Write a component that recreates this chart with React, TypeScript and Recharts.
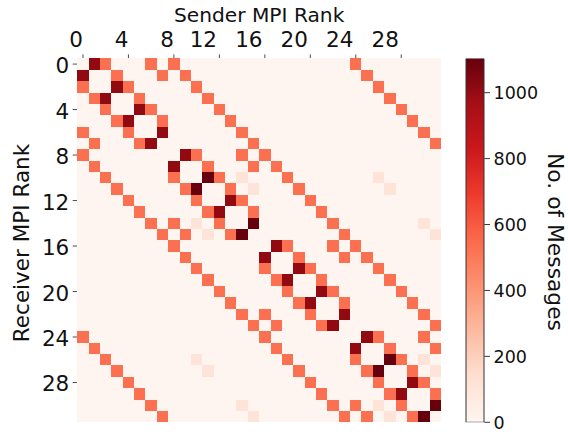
import React from 'react';
import { ScatterChart, Scatter, XAxis, YAxis, BarChart, Bar } from 'recharts';

// ---- data ----
const rankTicks = [0, 4, 8, 12, 16, 20, 24, 28];
const colorbarTicks = [0, 200, 400, 600, 800, 1000];
const colorMax = 1104;
const redsStops = ['#fff5f0', '#fee0d2', '#fcbba1', '#fc9272', '#fb6a4a', '#ef3b2c', '#cb181d', '#a50f15', '#67000d'];

// receiver rows, sender columns (0..31)
const recv00 = [0, 1010, 530, 0, 0, 0, 530, 0, 530, 0, 0, 0, 0, 0, 0, 0, 0, 0, 0, 0, 0, 0, 0, 0, 530, 0, 0, 0, 0, 0, 0, 0];
const recv01 = [1010, 0, 0, 530, 0, 0, 0, 530, 0, 530, 0, 0, 0, 0, 0, 0, 0, 0, 0, 0, 0, 0, 0, 0, 0, 530, 0, 0, 0, 0, 0, 0];
const recv02 = [530, 0, 0, 1010, 530, 0, 0, 0, 0, 0, 530, 0, 0, 0, 0, 0, 0, 0, 0, 0, 0, 0, 0, 0, 0, 0, 530, 0, 0, 0, 0, 0];
const recv03 = [0, 530, 1010, 0, 0, 530, 0, 0, 0, 0, 0, 530, 0, 0, 0, 0, 0, 0, 0, 0, 0, 0, 0, 0, 0, 0, 0, 530, 0, 0, 0, 0];
const recv04 = [0, 0, 530, 0, 0, 1010, 530, 0, 0, 0, 0, 0, 530, 0, 0, 0, 0, 0, 0, 0, 0, 0, 0, 0, 0, 0, 0, 0, 530, 0, 0, 0];
const recv05 = [0, 0, 0, 530, 1010, 0, 0, 530, 0, 0, 0, 0, 0, 530, 0, 0, 0, 0, 0, 0, 0, 0, 0, 0, 0, 0, 0, 0, 0, 530, 0, 0];
const recv06 = [530, 0, 0, 0, 530, 0, 0, 1010, 0, 0, 0, 0, 0, 0, 530, 0, 0, 0, 0, 0, 0, 0, 0, 0, 0, 0, 0, 0, 0, 0, 530, 0];
const recv07 = [0, 530, 0, 0, 0, 530, 1010, 0, 0, 0, 0, 0, 0, 0, 0, 530, 0, 0, 0, 0, 0, 0, 0, 0, 0, 0, 0, 0, 0, 0, 0, 530];
const recv08 = [530, 0, 0, 0, 0, 0, 0, 0, 0, 1010, 530, 0, 0, 0, 530, 0, 530, 0, 0, 0, 0, 0, 0, 0, 0, 0, 0, 0, 0, 0, 0, 0];
const recv09 = [0, 530, 0, 0, 0, 0, 0, 0, 1010, 0, 0, 530, 0, 0, 0, 530, 0, 530, 0, 0, 0, 0, 0, 0, 0, 0, 0, 0, 0, 0, 0, 0];
const recv10 = [0, 0, 530, 0, 0, 0, 0, 0, 530, 0, 0, 1104, 530, 0, 110, 0, 0, 0, 530, 0, 0, 0, 0, 0, 0, 0, 110, 0, 0, 0, 0, 0];
const recv11 = [0, 0, 0, 530, 0, 0, 0, 0, 0, 530, 1104, 0, 0, 530, 0, 110, 0, 0, 0, 530, 0, 0, 0, 0, 0, 0, 0, 110, 0, 0, 0, 0];
const recv12 = [0, 0, 0, 0, 530, 0, 0, 0, 0, 0, 530, 0, 0, 1010, 530, 0, 0, 0, 0, 0, 530, 0, 0, 0, 0, 0, 0, 0, 0, 0, 0, 0];
const recv13 = [0, 0, 0, 0, 0, 530, 0, 0, 0, 0, 0, 530, 1010, 0, 0, 530, 0, 0, 0, 0, 0, 530, 0, 0, 0, 0, 0, 0, 0, 0, 0, 0];
const recv14 = [0, 0, 0, 0, 0, 0, 530, 0, 530, 0, 110, 0, 530, 0, 0, 1104, 0, 0, 0, 0, 0, 0, 530, 0, 0, 0, 0, 0, 0, 0, 110, 0];
const recv15 = [0, 0, 0, 0, 0, 0, 0, 530, 0, 530, 0, 110, 0, 530, 1104, 0, 0, 0, 0, 0, 0, 0, 0, 530, 0, 0, 0, 0, 0, 0, 0, 110];
const recv16 = [0, 0, 0, 0, 0, 0, 0, 0, 530, 0, 0, 0, 0, 0, 0, 0, 0, 1010, 530, 0, 0, 0, 530, 0, 530, 0, 0, 0, 0, 0, 0, 0];
const recv17 = [0, 0, 0, 0, 0, 0, 0, 0, 0, 530, 0, 0, 0, 0, 0, 0, 1010, 0, 0, 530, 0, 0, 0, 530, 0, 530, 0, 0, 0, 0, 0, 0];
const recv18 = [0, 0, 0, 0, 0, 0, 0, 0, 0, 0, 530, 0, 0, 0, 0, 0, 530, 0, 0, 1010, 530, 0, 0, 0, 0, 0, 530, 0, 0, 0, 0, 0];
const recv19 = [0, 0, 0, 0, 0, 0, 0, 0, 0, 0, 0, 530, 0, 0, 0, 0, 0, 530, 1010, 0, 0, 530, 0, 0, 0, 0, 0, 530, 0, 0, 0, 0];
const recv20 = [0, 0, 0, 0, 0, 0, 0, 0, 0, 0, 0, 0, 530, 0, 0, 0, 0, 0, 530, 0, 0, 1010, 530, 0, 0, 0, 0, 0, 530, 0, 0, 0];
const recv21 = [0, 0, 0, 0, 0, 0, 0, 0, 0, 0, 0, 0, 0, 530, 0, 0, 0, 0, 0, 530, 1010, 0, 0, 530, 0, 0, 0, 0, 0, 530, 0, 0];
const recv22 = [0, 0, 0, 0, 0, 0, 0, 0, 0, 0, 0, 0, 0, 0, 530, 0, 530, 0, 0, 0, 530, 0, 0, 1010, 0, 0, 0, 0, 0, 0, 530, 0];
const recv23 = [0, 0, 0, 0, 0, 0, 0, 0, 0, 0, 0, 0, 0, 0, 0, 530, 0, 530, 0, 0, 0, 530, 1010, 0, 0, 0, 0, 0, 0, 0, 0, 530];
const recv24 = [530, 0, 0, 0, 0, 0, 0, 0, 0, 0, 0, 0, 0, 0, 0, 0, 530, 0, 0, 0, 0, 0, 0, 0, 0, 1010, 530, 0, 0, 0, 530, 0];
const recv25 = [0, 530, 0, 0, 0, 0, 0, 0, 0, 0, 0, 0, 0, 0, 0, 0, 0, 530, 0, 0, 0, 0, 0, 0, 1010, 0, 0, 530, 0, 0, 0, 530];
const recv26 = [0, 0, 530, 0, 0, 0, 0, 0, 0, 0, 110, 0, 0, 0, 0, 0, 0, 0, 530, 0, 0, 0, 0, 0, 530, 0, 0, 1104, 530, 0, 110, 0];
const recv27 = [0, 0, 0, 530, 0, 0, 0, 0, 0, 0, 0, 110, 0, 0, 0, 0, 0, 0, 0, 530, 0, 0, 0, 0, 0, 530, 1104, 0, 0, 530, 0, 110];
const recv28 = [0, 0, 0, 0, 530, 0, 0, 0, 0, 0, 0, 0, 0, 0, 0, 0, 0, 0, 0, 0, 530, 0, 0, 0, 0, 0, 530, 0, 0, 1010, 530, 0];
const recv29 = [0, 0, 0, 0, 0, 530, 0, 0, 0, 0, 0, 0, 0, 0, 0, 0, 0, 0, 0, 0, 0, 530, 0, 0, 0, 0, 0, 530, 1010, 0, 0, 530];
const recv30 = [0, 0, 0, 0, 0, 0, 530, 0, 0, 0, 0, 0, 0, 0, 110, 0, 0, 0, 0, 0, 0, 0, 530, 0, 530, 0, 110, 0, 530, 0, 0, 1104];
const recv31 = [0, 0, 0, 0, 0, 0, 0, 530, 0, 0, 0, 0, 0, 0, 0, 110, 0, 0, 0, 0, 0, 0, 0, 530, 0, 530, 0, 110, 0, 530, 1104, 0];

const messages = [
  recv00, recv01, recv02, recv03, recv04, recv05, recv06, recv07,
  recv08, recv09, recv10, recv11, recv12, recv13, recv14, recv15,
  recv16, recv17, recv18, recv19, recv20, recv21, recv22, recv23,
  recv24, recv25, recv26, recv27, recv28, recv29, recv30, recv31,
];

// ---- helpers ----
const FONT = '"DejaVu Sans", sans-serif';
const N = messages.length;

function hexToRgb(h: string) {
  return [parseInt(h.slice(1, 3), 16), parseInt(h.slice(3, 5), 16), parseInt(h.slice(5, 7), 16)];
}
const stopRgb = redsStops.map(hexToRgb);
function reds(v: number) {
  const t = Math.max(0, Math.min(1, v / colorMax));
  const s = t * (stopRgb.length - 1);
  const i = Math.min(stopRgb.length - 2, Math.floor(s));
  const f = s - i;
  const a = stopRgb[i];
  const b = stopRgb[i + 1];
  const c = a.map((x, k) => Math.round(x + (b[k] - x) * f));
  return `rgb(${c[0]},${c[1]},${c[2]})`;
}

const cells = messages.flatMap((row, r) =>
  row.map((v, c) => ({ sender: c + 0.5, receiver: r + 0.5, v }))
);

// ---- layout ----
const CH_W = 460;
const CH_H = 432;
const M_TOP = 28.4;
const M_LEFT = 17.3;
const M_RIGHT = 19;
const M_BOTTOM = 9.7;
const X_AXIS_H = 30;
const Y_AXIS_W = 60;
const PLOT_LEFT = M_LEFT + Y_AXIS_W;
const PLOT_TOP = M_TOP + X_AXIS_H;
const PLOT_W = CH_W - PLOT_LEFT - M_RIGHT;
const PLOT_H = CH_H - PLOT_TOP - M_BOTTOM;
const CELL_W = PLOT_W / N;
const CELL_H = PLOT_H / N;

const CellShape = (props: any) => {
  const { cx, cy } = props;
  const v = props.payload ? props.payload.v : props.v;
  return (
    <rect
      x={cx - CELL_W / 2}
      y={cy - CELL_H / 2}
      width={CELL_W}
      height={CELL_H}
      fill={reds(v)}
      shapeRendering="crispEdges"
    />
  );
};

const XTick = (p: any) => {
  const label = String(Math.round(p.payload.value - 0.5));
  const shift = label.length > 1 ? 16 : 6.8;
  return (
    <text x={p.x - shift} y={p.y} textAnchor="middle" fontSize={21.5} fontFamily={FONT} fill="#111">
      {label}
    </text>
  );
};

const YTick = (p: any) => {
  const label = String(Math.round(p.payload.value - 0.5));
  return (
    <text x={p.x + 1} y={p.y + 9} textAnchor="end" fontSize={21.5} fontFamily={FONT} fill="#111">
      {label}
    </text>
  );
};

const XTitle = () => (
  <text x={PLOT_LEFT + PLOT_W / 2} y={21.7} textAnchor="middle" fontSize={20.2} fontFamily={FONT} fill="#111">
    Sender MPI Rank
  </text>
);

const YTitle = () => (
  <text
    x={29}
    y={243}
    transform="rotate(-90 29 243)"
    textAnchor="middle"
    fontSize={21.5}
    fontFamily={FONT}
    fill="#111"
  >
    Receiver MPI Rank
  </text>
);

// colorbar layout
const CB_LEFT_PAGE = 440;
const CB_W = 128;
const CB_M_LEFT = 26;
const CB_AXIS_W = 60;
const CB_BAR_W = 18.3;
const CB_M_RIGHT = CB_W - CB_M_LEFT - CB_AXIS_W - CB_BAR_W;

const CbTick = (p: any) => (
  <text x={p.x} y={p.y + 6.8} textAnchor="start" fontSize={17.5} fontFamily={FONT} fill="#111">
    {p.payload.value}
  </text>
);

const CbTitle = () => (
  <text
    x={107.8}
    y={242}
    transform="rotate(90 107.8 242)"
    textAnchor="middle"
    fontSize={21.8}
    fontFamily={FONT}
    fill="#111"
  >
    No. of Messages
  </text>
);

const cbData = [{ name: 'scale', v: colorMax }];

export default function App() {
  return (
    <div style={{ position: 'absolute', left: 0, top: 0, width: 568, height: 432, background: '#fff' }}>
      <div style={{ position: 'absolute', left: 0, top: 0 }}>
        <ScatterChart
          width={CH_W}
          height={CH_H}
          margin={{ top: M_TOP, right: M_RIGHT, bottom: M_BOTTOM, left: M_LEFT }}
        >
          <XAxis
            type="number"
            dataKey="sender"
            orientation="top"
            domain={[0, N]}
            ticks={rankTicks.map((t) => t + 0.5)}
            interval={0}
            height={X_AXIS_H}
            axisLine={false}
            tickLine={{ stroke: '#222', strokeWidth: 0.8 }}
            tickSize={4}
            tickMargin={7.7}
            tick={<XTick />}
            label={{ content: () => <XTitle /> }}
          />
          <YAxis
            type="number"
            dataKey="receiver"
            reversed
            domain={[0, N]}
            ticks={rankTicks.map((t) => t + 0.5)}
            interval={0}
            width={Y_AXIS_W}
            axisLine={false}
            tickLine={{ stroke: '#222', strokeWidth: 0.8 }}
            tickSize={4.6}
            tickMargin={4.4}
            tick={<YTick />}
            label={{ content: () => <YTitle /> }}
          />
          <Scatter data={cells} shape={<CellShape />} isAnimationActive={false} />
        </ScatterChart>
      </div>
      <div style={{ position: 'absolute', left: CB_LEFT_PAGE, top: 0 }}>
        <BarChart
          width={CB_W}
          height={CH_H}
          data={cbData}
          barCategoryGap={0}
          margin={{ top: PLOT_TOP, right: CB_M_RIGHT, bottom: M_BOTTOM, left: CB_M_LEFT }}
        >
          <defs>
            <linearGradient id="redsGrad" x1="0" y1="1" x2="0" y2="0">
              {redsStops.map((c, i) => (
                <stop key={c} offset={i / (redsStops.length - 1)} stopColor={c} />
              ))}
            </linearGradient>
          </defs>
          <XAxis type="category" dataKey="name" hide />
          <YAxis
            type="number"
            orientation="right"
            domain={[0, colorMax]}
            allowDataOverflow
            ticks={colorbarTicks}
            interval={0}
            width={CB_AXIS_W}
            axisLine={false}
            tickLine={{ stroke: '#222', strokeWidth: 0.9 }}
            tickSize={5.7}
            tickMargin={3.5}
            tick={<CbTick />}
            label={{ content: () => <CbTitle /> }}
          />
          <Bar
            dataKey="v"
            fill="url(#redsGrad)"
            stroke="#333"
            strokeWidth={1}
            isAnimationActive={false}
          />
        </BarChart>
      </div>
    </div>
  );
}
